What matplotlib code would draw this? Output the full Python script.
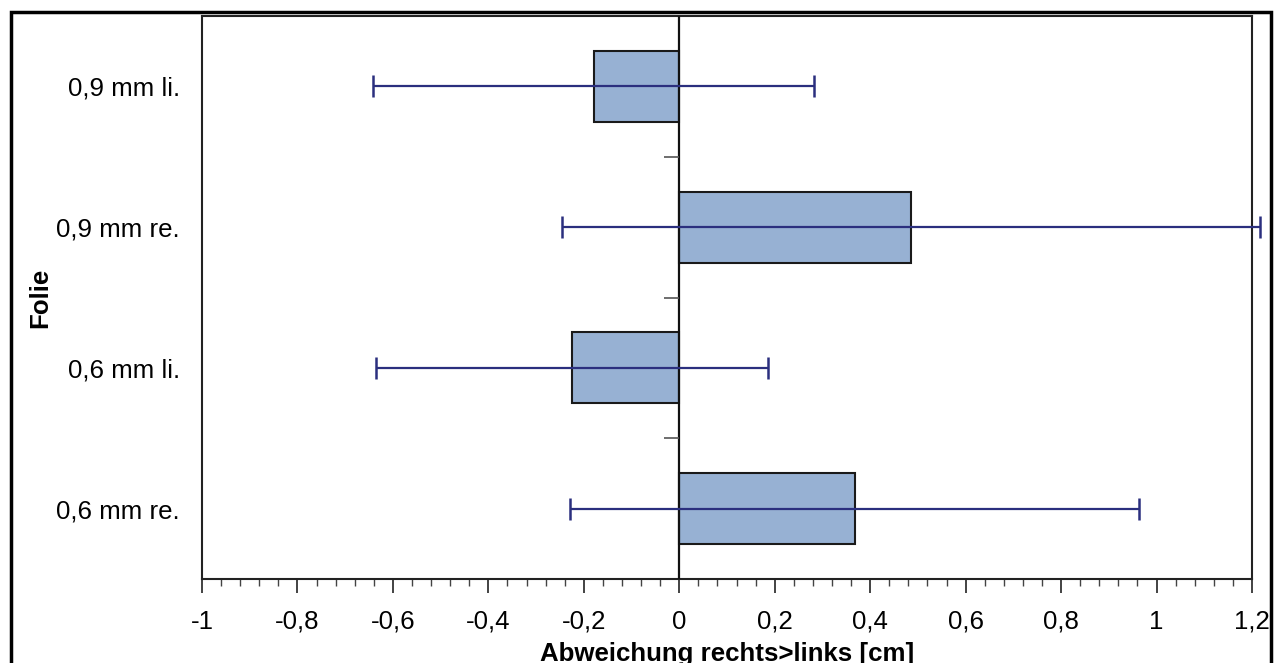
import matplotlib
matplotlib.use("Agg")
import matplotlib.pyplot as plt
from matplotlib.ticker import MultipleLocator, FixedLocator
from matplotlib.patches import Rectangle

# ---- data ----
categories = ["0,9 mm li.", "0,9 mm re.", "0,6 mm li.", "0,6 mm re."]
means = [-0.179, 0.485, -0.225, 0.368]
errors = [0.462, 0.731, 0.411, 0.596]
xtick_values = [-1, -0.8, -0.6, -0.4, -0.2, 0, 0.2, 0.4, 0.6, 0.8, 1, 1.2]
xtick_labels = ["-1", "-0,8", "-0,6", "-0,4", "-0,2", "0", "0,2", "0,4", "0,6", "0,8", "1", "1,2"]
xlabel = "Abweichung rechts>links [cm]"
ylabel = "Folie"

plt.rcParams['font.family'] = ['Liberation Sans', 'DejaVu Sans']
FS = 18.6

fig = plt.figure(figsize=(12.8, 6.63), dpi=100)
ax = fig.add_axes([202/1280, 1-579/663, (1252-202)/1280, (579-16)/663])

ypos = list(range(len(categories)))
ax.barh(ypos, means, height=0.505, color='#97b1d3', edgecolor='#1a1a1a',
        linewidth=1.5, zorder=2)
eb = ax.errorbar(means, ypos, xerr=errors, fmt='none', ecolor='#2b2f7e',
                 elinewidth=1.6, capsize=8, capthick=1.8, zorder=4)
for child in eb.get_children():
    child.set_clip_on(False)

ax.axvline(0, color='#111111', lw=1.6, zorder=3)
bounds = [i + 0.5 for i in ypos[:-1]]
ax.hlines(bounds, -0.032, 0, color='#555555', lw=1.2, zorder=3)

ax.set_xlim(-1, 1.2)
ax.set_ylim(len(categories) - 0.5, -0.5)

ax.set_yticks(ypos)
ax.set_yticklabels(categories, fontsize=FS)
ax.tick_params(axis='y', length=0, pad=16)

ax.xaxis.set_major_locator(FixedLocator(xtick_values))
ax.set_xticklabels(xtick_labels, fontsize=FS)
ax.xaxis.set_minor_locator(MultipleLocator(0.04))
ax.tick_params(axis='x', which='major', length=10, width=1.2, color='#222222', pad=12)
ax.tick_params(axis='x', which='minor', length=5, width=1.0, color='#444444')

for s in ax.spines.values():
    s.set_linewidth(1.5)
    s.set_color('#222222')

ax.set_xlabel(xlabel, fontsize=FS, fontweight='bold', labelpad=6)
ax.set_ylabel(ylabel, fontsize=FS, fontweight='bold', labelpad=3)

fig.patches.append(Rectangle((11/1280, -0.05), (1271-11)/1280, 1.05 - 12/663,
                             transform=fig.transFigure, fill=False,
                             edgecolor='black', linewidth=2.5))

fig.savefig("out.png", dpi=100)
